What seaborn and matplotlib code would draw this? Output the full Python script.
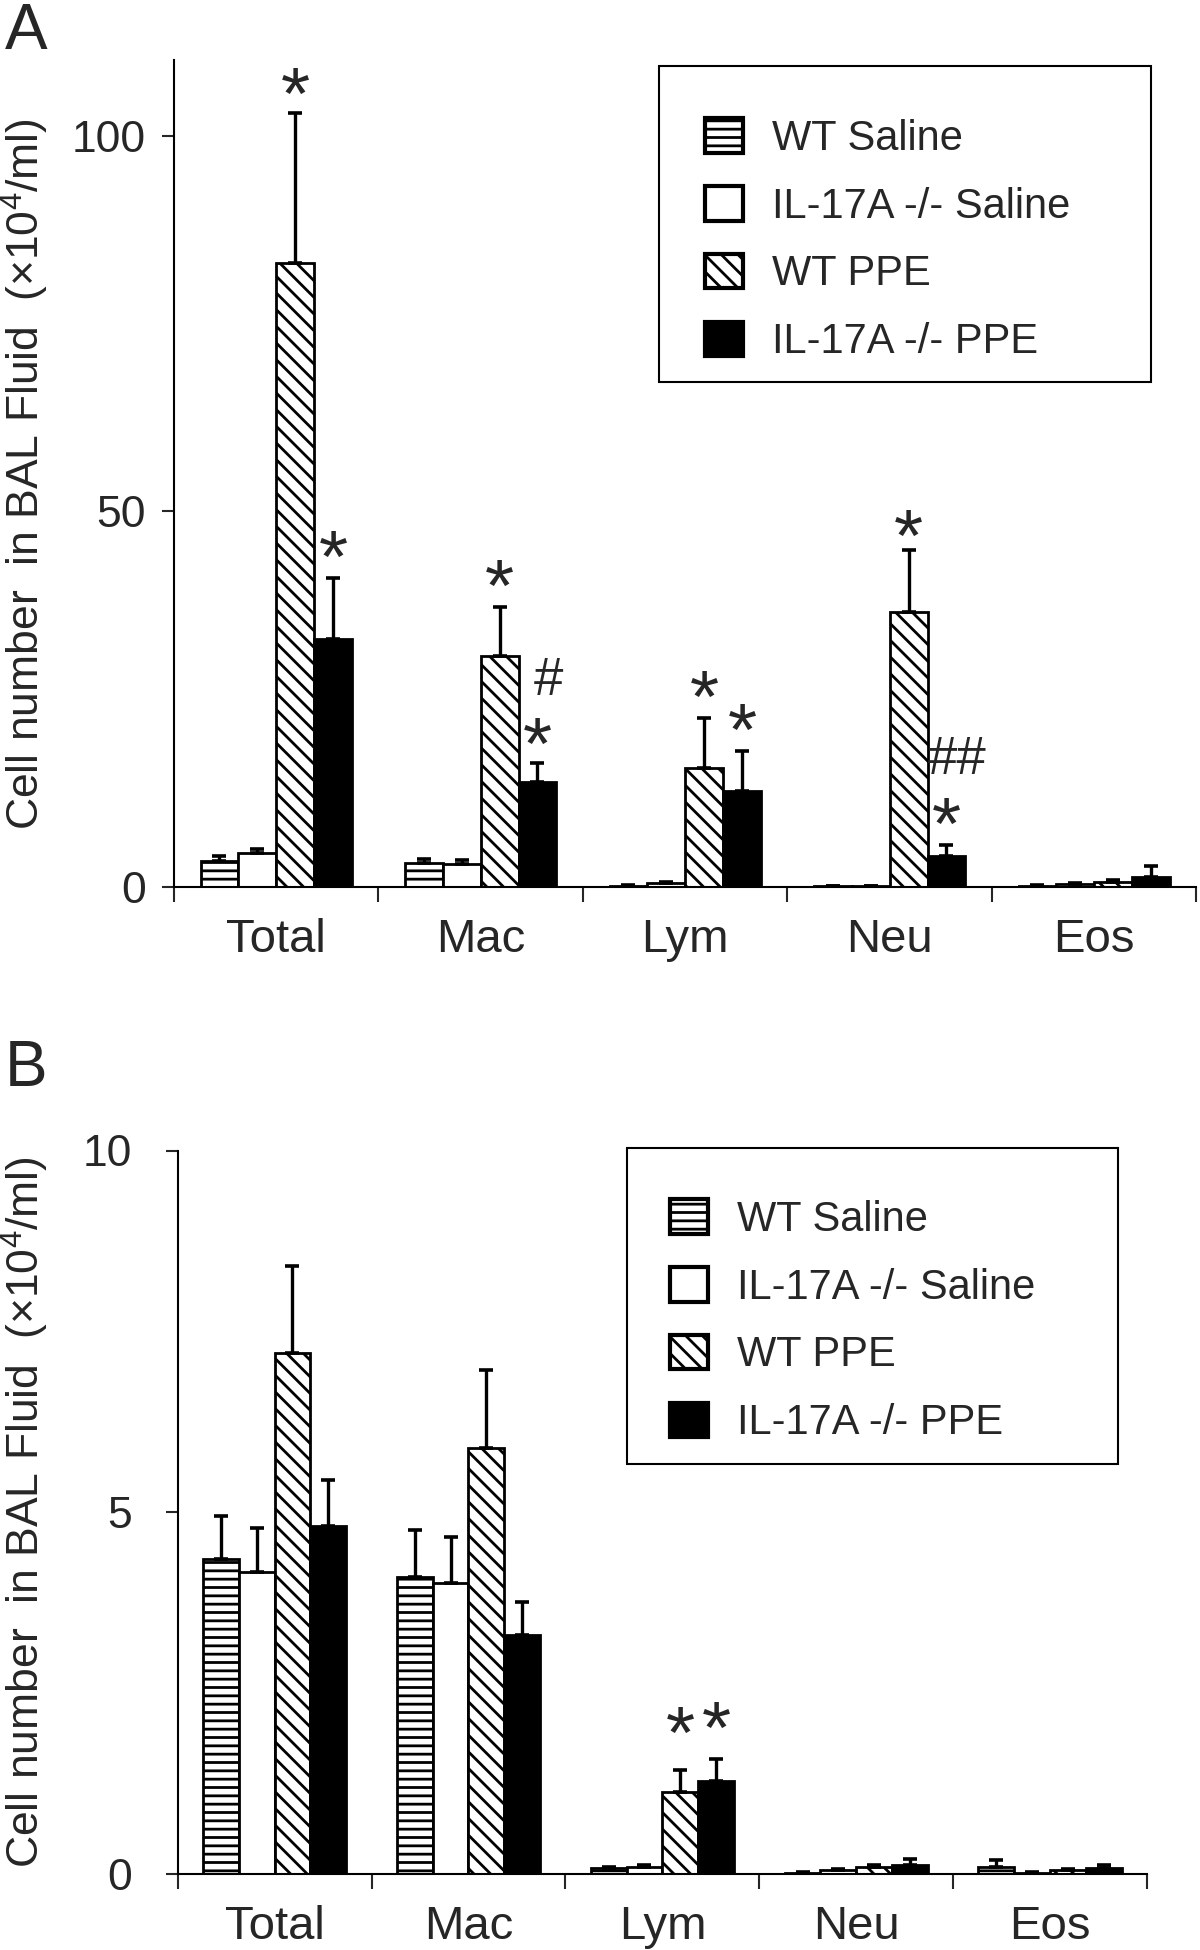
import numpy as np
import pandas as pd
import seaborn as sns
import matplotlib.pyplot as plt
from matplotlib.patches import Patch, Rectangle

# dados (x10^4/ml)
cells = ['Total', 'Mac', 'Lym', 'Neu', 'Eos']
groups = ['WT Saline', 'IL-17A -/- Saline', 'WT PPE', 'IL-17A -/- PPE']

# painel A
a_wt_saline = [3.5, 3.2, 0.2, 0.1, 0.2]
a_ko_saline = [4.5, 3.1, 0.5, 0.1, 0.4]
a_wt_ppe = [83.0, 30.8, 15.9, 36.6, 0.7]
a_ko_ppe = [33.0, 14.0, 12.8, 4.1, 1.4]
a_err_wt_saline = [0.6, 0.5, 0.1, 0.05, 0.1]
a_err_ko_saline = [0.6, 0.5, 0.2, 0.05, 0.2]
a_err_wt_ppe = [20.0, 6.5, 6.6, 8.3, 0.3]
a_err_ko_ppe = [8.2, 2.5, 5.3, 1.5, 1.4]

# painel B
b_wt_saline = [4.35, 4.10, 0.08, 0.02, 0.10]
b_ko_saline = [4.18, 4.02, 0.10, 0.05, 0.02]
b_wt_ppe = [7.20, 5.89, 1.13, 0.10, 0.05]
b_ko_ppe = [4.81, 3.30, 1.29, 0.12, 0.08]
b_err_wt_saline = [0.60, 0.65, 0.02, 0.01, 0.09]
b_err_ko_saline = [0.60, 0.64, 0.03, 0.02, 0.01]
b_err_wt_ppe = [1.20, 1.08, 0.30, 0.03, 0.02]
b_err_ko_ppe = [0.64, 0.46, 0.30, 0.09, 0.05]

# anotações: (célula, grupo, texto, deslocamento vertical em pontos)
a_marks = [('Total', 'WT PPE', '*', -4), ('Total', 'IL-17A -/- PPE', '*', -3),
           ('Mac', 'WT PPE', '*', -3), ('Mac', 'IL-17A -/- PPE', '*', -4),
           ('Mac', 'IL-17A -/- PPE', '#', 49),
           ('Lym', 'WT PPE', '*', -3), ('Lym', 'IL-17A -/- PPE', '*', -3),
           ('Neu', 'WT PPE', '*', -8), ('Neu', 'IL-17A -/- PPE', '*', -3),
           ('Neu', 'IL-17A -/- PPE', '##', 51)]
b_marks = [('Lym', 'WT PPE', '*', 9), ('Lym', 'IL-17A -/- PPE', '*', 4)]

colors = ['white', 'white', 'white', 'black']
hatches = ['--', '', '\\\\', '']

sns.set_style('white')
plt.rcParams['font.family'] = ['Liberation Sans', 'DejaVu Sans']
plt.rcParams['mathtext.fontset'] = 'custom'
plt.rcParams['mathtext.rm'] = 'Liberation Sans'
plt.rcParams['hatch.linewidth'] = 2.0
plt.rcParams['hatch.color'] = 'black'


def make_df(vals, errs):
    rows = []
    for g, v, e in zip(groups, vals, errs):
        for c, vv, ee in zip(cells, v, e):
            rows.append({'cell': c, 'group': g, 'value': vv, 'err': ee})
    return pd.DataFrame(rows)


def draw_panel(ax, df, ymax, yticks, marks, frame_box, leg_anchor, ytick_pad):
    sns.barplot(data=df, x='cell', y='value', hue='group', order=cells,
                hue_order=groups, palette=colors, edgecolor='black',
                linewidth=2.0, width=0.74, errorbar=None, legend=False,
                saturation=1, ax=ax)
    bar_conts = list(ax.containers)
    tops = {}
    for gi, cont in enumerate(bar_conts):
        sub = df[df['group'] == groups[gi]]
        xs, ys, es = [], [], []
        for bar, (_, row) in zip(cont.patches, sub.iterrows()):
            bar.set_hatch(hatches[gi])
            xc = bar.get_x() + bar.get_width() / 2
            xs.append(xc)
            ys.append(row['value'])
            es.append(row['err'])
            tops[(row['cell'], row['group'])] = (xc, row['value'] + row['err'])
        ax.errorbar(xs, ys, yerr=[np.zeros(len(es)), es], fmt='none',
                    ecolor='black', elinewidth=2.4, capsize=5, capthick=2.6,
                    zorder=3)

    for c, g, txt, off in marks:
        xc, yt = tops[(c, g)]
        if txt == '*':
            fs, dx = 54, 0
        else:
            fs, dx = 38, 8
        ax.annotate(txt, (xc, yt), xytext=(dx, off), textcoords='offset points',
                    ha='center', va='baseline', fontsize=fs)

    ax.set_xlim(-0.5, len(cells) - 0.5)
    ax.set_ylim(0, ymax)
    ax.set_yticks(yticks)
    ax.set_xticks(np.arange(len(cells) + 1) - 0.5)
    ax.set_xticklabels([])
    ax.set_xticks(np.arange(len(cells)), minor=True)
    ax.set_xticklabels(cells, minor=True)
    ax.tick_params(axis='x', which='major', direction='out', length=11,
                   width=1.5, bottom=True)
    ax.tick_params(axis='x', which='minor', length=0, pad=22, labelsize=34)
    ax.tick_params(axis='y', direction='out', length=9, width=1.5, left=True,
                   pad=ytick_pad, labelsize=32)
    ax.set_xlabel('')
    ax.set_ylabel('Cell number  in BAL Fluid  (\u00d710$^{\\mathrm{4}}$/ml)',
                  fontsize=32)
    sns.despine(ax=ax)
    for s in ['left', 'bottom']:
        ax.spines[s].set_linewidth(1.5)
        ax.spines[s].set_color('black')

    # caixa da legenda
    x0, y0, x1, y1 = frame_box
    ax.add_patch(Rectangle((x0, y0), x1 - x0, y1 - y0, transform=ax.transAxes,
                           facecolor='white', edgecolor='black', linewidth=1.5,
                           clip_on=False, zorder=4))
    handles = [Patch(facecolor=colors[i], edgecolor='black', hatch=hatches[i],
                     linewidth=3.0) for i in range(len(groups))]
    leg = ax.legend(handles, groups, loc='upper left',
                    bbox_to_anchor=leg_anchor, fontsize=30, frameon=False,
                    borderpad=0, handlelength=0.9, handleheight=0.9,
                    handletextpad=0.7, labelspacing=0.65, borderaxespad=0)
    leg.set_zorder(5)


fig = plt.figure(figsize=(12, 19.5), dpi=100)
ax_a = fig.add_axes([0.145, 0.545, 0.852, 0.424])
ax_b = fig.add_axes([0.148, 0.039, 0.808, 0.371])

df_a = make_df([a_wt_saline, a_ko_saline, a_wt_ppe, a_ko_ppe],
               [a_err_wt_saline, a_err_ko_saline, a_err_wt_ppe, a_err_ko_ppe])
df_b = make_df([b_wt_saline, b_ko_saline, b_wt_ppe, b_ko_ppe],
               [b_err_wt_saline, b_err_ko_saline, b_err_wt_ppe, b_err_ko_ppe])

draw_panel(ax_a, df_a, 110, [0, 50, 100], a_marks,
           (0.4746, 0.6106, 0.956, 0.9927), (0.5196, 0.930), 11)
draw_panel(ax_b, df_b, 10, [0, 5, 10], b_marks,
           (0.463, 0.5663, 0.970, 1.0028), (0.508, 0.9325), 24)

ax_a.yaxis.set_label_coords(-0.120, 0.5)
ax_b.yaxis.set_label_coords(-0.131, 0.5)

fig.text(0.004, 0.999, 'A', fontsize=46, va='top', ha='left')
fig.text(0.004, 0.467, 'B', fontsize=46, va='top', ha='left')

fig.savefig('out.png', dpi=100)
